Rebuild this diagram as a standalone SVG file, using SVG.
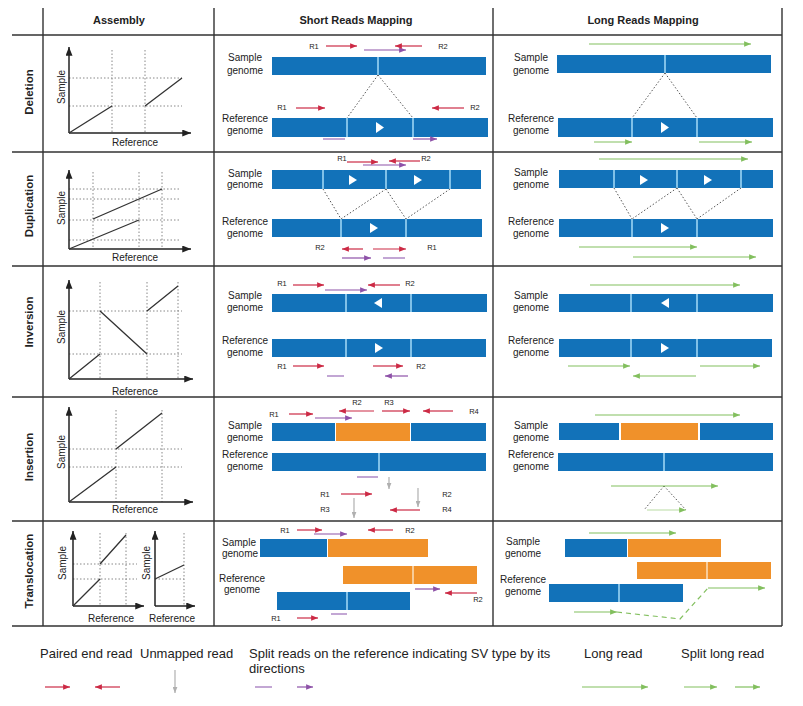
<svg xmlns="http://www.w3.org/2000/svg" width="803" height="706" viewBox="0 0 803 706">
<style>
.bar{fill:#1272b9}
.org{fill:#f0912a}
.sp{stroke:#a6dcf8;stroke-width:1.5}
.spo{stroke:#fbe0bf;stroke-width:1.5}
.dot{stroke:#555;stroke-width:1;stroke-dasharray:1.5 2;fill:none}
.gd{stroke:#888;stroke-width:1;stroke-dasharray:1.5 2;fill:none}
.ax{stroke:#222;stroke-width:1.5;fill:none;marker-end:url(#mk)}
.pl{stroke:#333;stroke-width:1.3;fill:none}
.red{stroke:#cc2a45;stroke-width:1.2;marker-end:url(#mr)}
.pur{stroke:#9a6cb8;stroke-width:1.2}
.pura{stroke:#8e52a8;stroke-width:1.2;marker-end:url(#mp)}
.grn{stroke:#82bf5e;stroke-width:1.2;fill:none;marker-end:url(#mg)}
.grnd{stroke:#82bf5e;stroke-width:1.2;fill:none;stroke-dasharray:5 4}
.gry{stroke:#b0b0b0;stroke-width:1.2;marker-end:url(#my)}
.grid{stroke:#333;stroke-width:1.4;fill:none}
.tri{fill:#fff}
text{font-family:"Liberation Sans",Arial,sans-serif;fill:#222}
.lab{font-size:10px;text-anchor:middle}
.ax-l{font-size:10px;text-anchor:middle}
.r{font-size:7.5px;text-anchor:middle}
.hd{font-size:11px;font-weight:bold;text-anchor:middle}
.rw{font-size:11.5px;font-weight:bold;text-anchor:middle}
.lg{font-size:13px}
</style>
<defs>
<marker id="mr" viewBox="0 0 10 8" refX="10" refY="4" markerWidth="7" markerHeight="5.5" orient="auto" markerUnits="userSpaceOnUse"><path d="M0,0L10,4L0,8z" fill="#cc2a45"/></marker>
<marker id="mp" viewBox="0 0 10 8" refX="10" refY="4" markerWidth="7" markerHeight="5.5" orient="auto" markerUnits="userSpaceOnUse"><path d="M0,0L10,4L0,8z" fill="#8e52a8"/></marker>
<marker id="mg" viewBox="0 0 10 8" refX="10" refY="4" markerWidth="7" markerHeight="5.5" orient="auto" markerUnits="userSpaceOnUse"><path d="M0,0L10,4L0,8z" fill="#82bf5e"/></marker>
<marker id="my" viewBox="0 0 8 10" refX="4" refY="10" markerWidth="5" markerHeight="6" orient="0" markerUnits="userSpaceOnUse"><path d="M0,0L8,0L4,10z" fill="#b0b0b0"/></marker>
<marker id="mk" viewBox="0 0 10 8" refX="10" refY="4" markerWidth="9" markerHeight="7" orient="auto" markerUnits="userSpaceOnUse"><path d="M0,0L10,4L0,8z" fill="#222"/></marker>
</defs>
<rect width="803" height="706" fill="#fff"/>

<g id="table-grid">
<path class="grid" d="M43,8V626M214,8V626M493,8V626M782,8V626"/>
<path class="grid" d="M12,35H782M12,152H782M12,266H782M12,397H782M12,521H782M12,626H782"/>
</g>

<g id="headers">
<text class="hd" x="119" y="24">Assembly</text>
<text class="hd" x="356" y="24">Short Reads Mapping</text>
<text class="hd" x="643" y="24">Long Reads Mapping</text>
<text class="rw" transform="translate(33,92) rotate(-90)">Deletion</text>
<text class="rw" transform="translate(33,206) rotate(-90)">Duplication</text>
<text class="rw" transform="translate(33,322) rotate(-90)">Inversion</text>
<text class="rw" transform="translate(33,457) rotate(-90)">Insertion</text>
<text class="rw" transform="translate(33,571) rotate(-90)">Translocation</text>
</g>

<!-- Assembly plots -->
<g id="asm-deletion">
<path class="gd" d="M112,50V133M145,50V133M69,78H182M69,106H182"/>
<path class="ax" d="M69,133V47"/><path class="ax" d="M69,133H191"/>
<path class="pl" d="M69,133L112,106M145,106L182,78"/>
<text class="ax-l" transform="translate(65,87) rotate(-90)">Sample</text>
<text class="ax-l" x="135" y="145.5">Reference</text>
</g>
<g id="asm-duplication">
<path class="gd" d="M93,172V249M139,172V249M162,172V249M69,189H180M69,199H180M69,220H180M69,240H180"/>
<path class="ax" d="M69,249V170"/><path class="ax" d="M69,249H191"/>
<path class="pl" d="M69,249L139,220M93,219L162,189"/>
<text class="ax-l" transform="translate(65,208) rotate(-90)">Sample</text>
<text class="ax-l" x="135" y="260.5">Reference</text>
</g>
<g id="asm-inversion">
<path class="gd" d="M100,282V379M147,282V379M178,282V379M69,311H182M69,354H182"/>
<path class="ax" d="M69,379V280"/><path class="ax" d="M69,379H193"/>
<path class="pl" d="M69,379L100,354M100,311L147,354M147,311L178,286"/>
<text class="ax-l" transform="translate(65,327) rotate(-90)">Sample</text>
<text class="ax-l" x="135" y="394.5">Reference</text>
</g>
<g id="asm-insertion">
<path class="gd" d="M116,410V502M162,410V502M69,449H182M69,467H182"/>
<path class="ax" d="M69,502V407"/><path class="ax" d="M69,502H193"/>
<path class="pl" d="M69,502L116,467M116,449L162,413"/>
<text class="ax-l" transform="translate(65,452) rotate(-90)">Sample</text>
<text class="ax-l" x="135" y="512.5">Reference</text>
</g>
<g id="asm-translocation">
<path class="gd" d="M100,533V606M126,533V606M73,564H137M73,579H137"/>
<path class="ax" d="M73,606V531"/><path class="ax" d="M73,606H144"/>
<path class="pl" d="M73,606L100,579M100,564L126,535"/>
<text class="ax-l" transform="translate(66,563) rotate(-90)">Sample</text>
<text class="ax-l" x="111" y="621.5">Reference</text>
<path class="gd" d="M184,533V606M155,579H184"/>
<path class="ax" d="M155,606V531"/><path class="ax" d="M155,606H195"/>
<path class="pl" d="M155,579L184,565"/>
<text class="ax-l" transform="translate(150,563) rotate(-90)">Sample</text>
<text class="ax-l" x="172" y="621.5">Reference</text>
</g>

<!-- Short reads: Deletion -->
<g id="sr-deletion">
<text class="lab" x="245" y="61">Sample</text><text class="lab" x="245" y="74">genome</text>
<text class="lab" x="245" y="121.5">Reference</text><text class="lab" x="245" y="134">genome</text>
<rect class="bar" x="272" y="57" width="214" height="18"/>
<line class="sp" x1="378" y1="57" x2="378" y2="75"/>
<rect class="bar" x="272" y="118" width="216" height="19"/>
<line class="sp" x1="347" y1="118" x2="347" y2="137"/><line class="sp" x1="413" y1="118" x2="413" y2="137"/>
<polygon class="tri" points="376,122 384,127.5 376,133"/>
<path class="dot" d="M378,75L347,118M378,75L413,118"/>
</g>
<!-- Long reads: Deletion -->
<g id="lr-deletion">
<text class="lab" x="531" y="61">Sample</text><text class="lab" x="531" y="74">genome</text>
<text class="lab" x="531" y="121.5">Reference</text><text class="lab" x="531" y="134">genome</text>
<rect class="bar" x="557" y="55" width="214" height="18"/>
<line class="sp" x1="665" y1="55" x2="665" y2="73"/>
<rect class="bar" x="558" y="118" width="215" height="19"/>
<line class="sp" x1="632" y1="118" x2="632" y2="137"/><line class="sp" x1="697" y1="118" x2="697" y2="137"/>
<polygon class="tri" points="661,122 669,127.5 661,133"/>
<path class="dot" d="M665,73L632,118M665,73L697,118"/>
</g>

<!-- Duplication -->
<g id="sr-duplication">
<text class="lab" x="245" y="176.5">Sample</text><text class="lab" x="245" y="188">genome</text>
<text class="lab" x="245" y="224.5">Reference</text><text class="lab" x="245" y="236.5">genome</text>
<rect class="bar" x="272" y="170" width="209" height="19"/>
<line class="sp" x1="323" y1="170" x2="323" y2="189"/><line class="sp" x1="386" y1="170" x2="386" y2="189"/><line class="sp" x1="450" y1="170" x2="450" y2="189"/>
<polygon class="tri" points="349,175 357,180 349,185"/><polygon class="tri" points="414,175 422,180 414,185"/>
<rect class="bar" x="272" y="219" width="210" height="18"/>
<line class="sp" x1="341" y1="219" x2="341" y2="237"/><line class="sp" x1="406" y1="219" x2="406" y2="237"/>
<polygon class="tri" points="370,223 378,228 370,233"/>
<path class="dot" d="M323,189L341,219M386,189L341,219M386,189L406,219M450,189L406,219"/>
</g>
<g id="lr-duplication">
<text class="lab" x="531" y="176">Sample</text><text class="lab" x="531" y="188">genome</text>
<text class="lab" x="531" y="224.5">Reference</text><text class="lab" x="531" y="236.5">genome</text>
<rect class="bar" x="559" y="170" width="214" height="18"/>
<line class="sp" x1="614" y1="170" x2="614" y2="188"/><line class="sp" x1="677" y1="170" x2="677" y2="188"/><line class="sp" x1="741" y1="170" x2="741" y2="188"/>
<polygon class="tri" points="640,175 648,180 640,185"/><polygon class="tri" points="704,175 712,180 704,185"/>
<rect class="bar" x="559" y="219" width="214" height="18"/>
<line class="sp" x1="632" y1="219" x2="632" y2="237"/><line class="sp" x1="697" y1="219" x2="697" y2="237"/>
<polygon class="tri" points="661,223 669,228 661,233"/>
<path class="dot" d="M614,188L632,219M677,188L632,219M677,188L697,219M741,188L697,219"/>
</g>

<!-- Inversion -->
<g id="sr-inversion">
<text class="lab" x="245" y="298.5">Sample</text><text class="lab" x="245" y="310.5">genome</text>
<text class="lab" x="245" y="343.5">Reference</text><text class="lab" x="245" y="355.5">genome</text>
<rect class="bar" x="272" y="294" width="215" height="18"/>
<line class="sp" x1="346" y1="294" x2="346" y2="312"/><line class="sp" x1="411" y1="294" x2="411" y2="312"/>
<polygon class="tri" points="382,298 374,303 382,308"/>
<rect class="bar" x="272" y="339" width="214" height="18"/>
<line class="sp" x1="346" y1="339" x2="346" y2="357"/><line class="sp" x1="411" y1="339" x2="411" y2="357"/>
<polygon class="tri" points="375,343 383,348 375,353"/>
</g>
<g id="lr-inversion">
<text class="lab" x="531" y="298.5">Sample</text><text class="lab" x="531" y="310.5">genome</text>
<text class="lab" x="531" y="343.5">Reference</text><text class="lab" x="531" y="355.5">genome</text>
<rect class="bar" x="559" y="294" width="214" height="18"/>
<line class="sp" x1="631" y1="294" x2="631" y2="312"/><line class="sp" x1="697" y1="294" x2="697" y2="312"/>
<polygon class="tri" points="669,298 661,303 669,308"/>
<rect class="bar" x="559" y="339" width="213" height="18"/>
<line class="sp" x1="631" y1="339" x2="631" y2="357"/><line class="sp" x1="697" y1="339" x2="697" y2="357"/>
<polygon class="tri" points="661,343 669,348 661,353"/>
</g>

<!-- Insertion -->
<g id="sr-insertion">
<text class="lab" x="245" y="428.5">Sample</text><text class="lab" x="245" y="440.5">genome</text>
<text class="lab" x="245" y="457.5">Reference</text><text class="lab" x="245" y="469.5">genome</text>
<rect class="bar" x="272" y="423" width="63" height="18"/>
<rect class="org" x="336" y="423" width="74" height="18"/>
<rect class="bar" x="411" y="423" width="75" height="18"/>
<rect class="bar" x="272" y="453" width="214" height="18"/>
<line class="sp" x1="379" y1="453" x2="379" y2="471"/>
</g>
<g id="lr-insertion">
<text class="lab" x="531" y="428.5">Sample</text><text class="lab" x="531" y="440.5">genome</text>
<text class="lab" x="531" y="457.5">Reference</text><text class="lab" x="531" y="469.5">genome</text>
<rect class="bar" x="559" y="423" width="60" height="17"/>
<rect class="org" x="621" y="423" width="77" height="17"/>
<rect class="bar" x="700" y="423" width="73" height="17"/>
<rect class="bar" x="558" y="453" width="215" height="18"/>
<line class="sp" x1="664" y1="453" x2="664" y2="471"/>
<path class="dot" d="M664,486L644,510M664,486L686,510"/>
</g>

<!-- Translocation -->
<g id="sr-translocation">
<text class="lab" x="239" y="545.5">Sample</text><text class="lab" x="240" y="556.5">genome</text>
<text class="lab" x="242" y="581.5">Reference</text><text class="lab" x="242" y="592.5">genome</text>
<rect class="bar" x="260" y="539" width="67" height="18"/>
<rect class="org" x="328" y="539" width="100" height="18"/>
<rect class="org" x="343" y="566" width="134" height="18"/>
<line class="spo" x1="413" y1="566" x2="413" y2="584"/>
<rect class="bar" x="277" y="592" width="133" height="18"/>
<line class="sp" x1="347" y1="592" x2="347" y2="610"/>
</g>
<g id="lr-translocation">
<text class="lab" x="523" y="544.5">Sample</text><text class="lab" x="523" y="556.5">genome</text>
<text class="lab" x="523" y="582.5">Reference</text><text class="lab" x="523" y="594.5">genome</text>
<rect class="bar" x="565" y="539" width="62" height="18"/>
<rect class="org" x="628" y="539" width="93" height="18"/>
<rect class="org" x="637" y="562" width="134" height="17"/>
<line class="spo" x1="707" y1="562" x2="707" y2="579"/>
<rect class="bar" x="549" y="584" width="134" height="18"/>
<line class="sp" x1="619" y1="584" x2="619" y2="602"/>
</g>

<!-- Reads (connectors) -->
<g id="reads">
<text class="r" x="314" y="48.5">R1</text>
<line class="red" x1="326" y1="46" x2="357" y2="46"/>
<line class="pura" x1="364" y1="50" x2="406" y2="50"/>
<line class="red" x1="422" y1="46" x2="395" y2="46"/>
<text class="r" x="443" y="48.5">R2</text>
<text class="r" x="282" y="110">R1</text>
<line class="red" x1="296" y1="108" x2="325" y2="108"/>
<line class="red" x1="464" y1="108" x2="432" y2="108"/>
<text class="r" x="475" y="110">R2</text>
<line class="pur" x1="323" y1="139" x2="345" y2="139"/>
<line class="pura" x1="413" y1="139" x2="437" y2="139"/>
<line class="grn" x1="589" y1="44" x2="751" y2="44"/>
<line class="grn" x1="594" y1="142" x2="632" y2="142"/>
<line class="grn" x1="699" y1="142" x2="752" y2="142"/>
<text class="r" x="342" y="160.5">R1</text>
<line class="red" x1="347" y1="162" x2="378" y2="162"/>
<line class="red" x1="420" y1="161" x2="389" y2="161"/>
<text class="r" x="426" y="160.5">R2</text>
<line class="pura" x1="363" y1="165" x2="406" y2="165"/>
<text class="r" x="320" y="249.5">R2</text>
<line class="red" x1="363" y1="249" x2="342" y2="249"/>
<line class="red" x1="373" y1="249" x2="406" y2="249"/>
<text class="r" x="432" y="249.5">R1</text>
<line class="pura" x1="342" y1="258" x2="371" y2="258"/>
<line class="pur" x1="383" y1="258" x2="405" y2="258"/>
<line class="grn" x1="599" y1="159" x2="748" y2="159"/>
<line class="grn" x1="579" y1="247" x2="697" y2="247"/>
<line class="grn" x1="633" y1="257" x2="756" y2="257"/>
<text class="r" x="282" y="285.5">R1</text>
<line class="red" x1="293" y1="285" x2="324" y2="285"/>
<line class="pura" x1="325" y1="290" x2="367" y2="290"/>
<line class="red" x1="400" y1="285" x2="368" y2="285"/>
<text class="r" x="410" y="285.5">R2</text>
<text class="r" x="282" y="368.5">R1</text>
<line class="red" x1="293" y1="366" x2="324" y2="366"/>
<line class="red" x1="373" y1="366" x2="403" y2="366"/>
<text class="r" x="421" y="368.5">R2</text>
<line class="pur" x1="327" y1="376" x2="344" y2="376"/>
<line class="pura" x1="408" y1="376" x2="385" y2="376"/>
<line class="grn" x1="590" y1="285" x2="740" y2="285"/>
<line class="grn" x1="568" y1="366" x2="630" y2="366"/>
<line class="grn" x1="700" y1="366" x2="760" y2="366"/>
<line class="grn" x1="696" y1="376" x2="633" y2="376"/>
<text class="r" x="274" y="416.5">R1</text>
<line class="red" x1="289" y1="414" x2="313" y2="414"/>
<line class="pura" x1="315" y1="418" x2="352" y2="418"/>
<text class="r" x="357" y="404.5">R2</text>
<line class="red" x1="374" y1="411" x2="339" y2="411"/>
<text class="r" x="389" y="404.5">R3</text>
<line class="red" x1="382" y1="411" x2="410" y2="411"/>
<line class="red" x1="453" y1="411" x2="423" y2="411"/>
<text class="r" x="474" y="413.5">R4</text>
<line class="pur" x1="357" y1="477" x2="378" y2="477"/>
<line class="gry" x1="389" y1="477" x2="389" y2="489"/>
<text class="r" x="325" y="496.5">R1</text>
<line class="red" x1="341" y1="494" x2="372" y2="494"/>
<text class="r" x="447" y="496.5">R2</text>
<line class="gry" x1="418" y1="488" x2="418" y2="507"/>
<text class="r" x="325" y="511.5">R3</text>
<line class="gry" x1="354" y1="498" x2="354" y2="518"/>
<line class="red" x1="420" y1="510" x2="390" y2="510"/>
<text class="r" x="447" y="511.5">R4</text>
<line class="grn" x1="595" y1="415" x2="740" y2="415"/>
<line class="grn" x1="611" y1="486" x2="718" y2="486"/>
<line class="grn" x1="647" y1="510" x2="686" y2="510" style="stroke:#b9dca4"/>
<text class="r" x="285" y="532.5">R1</text>
<line class="red" x1="297" y1="530" x2="322" y2="530"/>
<line class="pura" x1="314" y1="534" x2="347" y2="534"/>
<line class="red" x1="393" y1="530" x2="368" y2="530"/>
<text class="r" x="410" y="532.5">R2</text>
<text class="r" x="276" y="620.5">R1</text>
<line class="red" x1="297" y1="618" x2="318" y2="618"/>
<line class="pur" x1="331" y1="614" x2="347" y2="614"/>
<line class="pura" x1="415" y1="589" x2="440" y2="589"/>
<line class="red" x1="477" y1="593" x2="445" y2="593"/>
<text class="r" x="478" y="601.5">R2</text>
<line class="grn" x1="589" y1="533" x2="676" y2="533"/>
<line class="grn" x1="574" y1="612" x2="617" y2="612"/>
<path class="grnd" d="M617,612L680,619L708,588"/>
<line class="grn" x1="708" y1="588" x2="765" y2="588"/>
</g>

<!-- Legend -->
<g id="legend">
<text class="lg" x="40" y="658">Paired end read</text>
<text class="lg" x="140" y="658">Unmapped read</text>
<text class="lg" x="249" y="658">Split reads on the reference indicating SV type by its</text>
<text class="lg" x="249" y="673">directions</text>
<text class="lg" x="584" y="658">Long read</text>
<text class="lg" x="681" y="658">Split long read</text>
<line class="red" x1="45" y1="687" x2="70" y2="687"/>
<line class="red" x1="120" y1="687" x2="95" y2="687"/>
<line class="gry" x1="175" y1="670" x2="175" y2="693"/>
<line class="pur" x1="255" y1="687" x2="272" y2="687"/>
<line class="pura" x1="297" y1="687" x2="313" y2="687"/>
<line class="grn" x1="582" y1="687" x2="648" y2="687"/>
<line class="grn" x1="684" y1="687" x2="717" y2="687"/>
<line class="grn" x1="735" y1="687" x2="760" y2="687"/>
</g>
</svg>
